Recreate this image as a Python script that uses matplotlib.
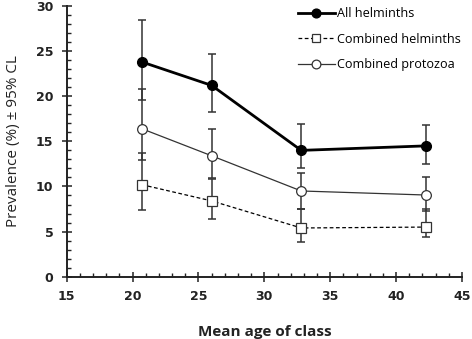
import matplotlib
matplotlib.use("Agg")
import matplotlib.pyplot as plt
from matplotlib.ticker import MultipleLocator

plt.rcParams['font.family'] = ['Open Sans', 'DejaVu Sans']

# Data
age = [20.7, 26.0, 32.8, 42.3]

all_helminths = [23.8, 21.2, 14.0, 14.5]
all_helminths_lo = [19.6, 18.2, 12.0, 12.5]
all_helminths_hi = [28.5, 24.7, 16.9, 16.8]

combined_helminths = [10.2, 8.4, 5.4, 5.5]
combined_helminths_lo = [7.4, 6.4, 3.9, 4.4]
combined_helminths_hi = [13.75, 10.8, 7.5, 7.5]

combined_protozoa = [16.4, 13.4, 9.5, 9.05]
combined_protozoa_lo = [12.9, 10.9, 7.5, 7.3]
combined_protozoa_hi = [20.8, 16.4, 11.5, 11.0]

labels = ["All helminths", "Combined helminths", "Combined protozoa"]

fig = plt.figure(figsize=(4.72, 3.39), dpi=100)
ax = fig.add_axes([66.7/472, 1-276.7/339, (462-66.7)/472, (276.7-6)/339])

def yerr(v, lo, hi):
    return [[a - b for a, b in zip(v, lo)], [c - a for a, c in zip(v, hi)]]

ebkw = dict(ecolor='#333333', elinewidth=1.1, capsize=3, capthick=1.1)

ax.errorbar(age, all_helminths, yerr=yerr(all_helminths, all_helminths_lo, all_helminths_hi),
            fmt='none', zorder=2, **ebkw)
ax.errorbar(age, combined_helminths, yerr=yerr(combined_helminths, combined_helminths_lo, combined_helminths_hi),
            fmt='none', zorder=2, **ebkw)
ax.errorbar(age, combined_protozoa, yerr=yerr(combined_protozoa, combined_protozoa_lo, combined_protozoa_hi),
            fmt='none', zorder=2, **ebkw)

l1, = ax.plot(age, all_helminths, color='black', lw=2.0, marker='o', ms=7,
              mfc='black', mec='black', zorder=4, label=labels[0])
l2, = ax.plot(age, combined_helminths, color='black', lw=0.9, ls=(0, (3, 2)), marker='s', ms=7,
              mfc='white', mec='#333333', mew=0.9, zorder=4, label=labels[1])
l3, = ax.plot(age, combined_protozoa, color='#333333', lw=0.9, marker='o', ms=7,
              mfc='white', mec='#333333', mew=0.9, zorder=4, label=labels[2])

ax.set_xlim(15, 45)
ax.set_ylim(0, 30)
ax.xaxis.set_major_locator(MultipleLocator(5))
ax.xaxis.set_minor_locator(MultipleLocator(1))
ax.yaxis.set_major_locator(MultipleLocator(5))
ax.yaxis.set_minor_locator(MultipleLocator(1))

for s in ['top', 'right']:
    ax.spines[s].set_visible(False)
for s in ['left', 'bottom']:
    ax.spines[s].set_linewidth(1.4)
    ax.spines[s].set_color('#222222')

ax.tick_params(which='major', direction='inout', length=7, width=1.1, color='#222222', pad=6)
ax.tick_params(which='minor', direction='in', length=3, width=1.0, color='#222222')
for lab in ax.get_xticklabels() + ax.get_yticklabels():
    lab.set_fontsize(9)
    lab.set_fontfamily('DejaVu Sans')
    lab.set_fontweight('bold')
    lab.set_color('#222222')

ax.set_ylabel("Prevalence (%) ± 95% CL", fontsize=11, color='#222222', labelpad=11)
ax.set_xlabel("Mean age of class", fontsize=11, fontweight='bold', color='#222222', labelpad=16)

leg = fig.legend(handles=[l1, l2, l3], loc='upper left', bbox_to_anchor=(298/472, 1-7/339),
                 frameon=False, fontsize=9.1, handlelength=2.9, handletextpad=0.2,
                 labelspacing=1.0, borderpad=0, borderaxespad=0, markerscale=0.9)

fig.savefig("out.png", dpi=100, facecolor='white')
